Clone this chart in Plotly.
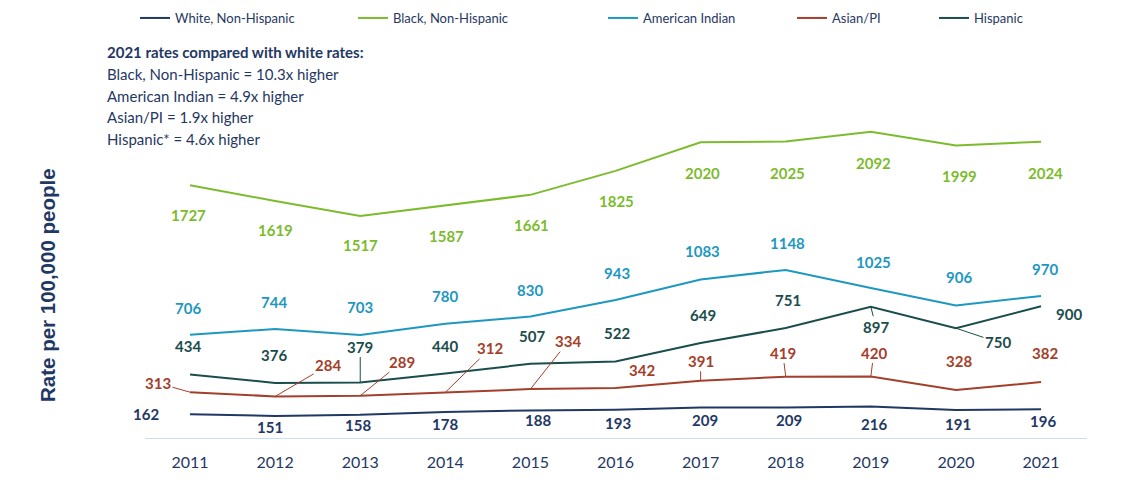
import plotly.graph_objects as go

# Data
years = [2011, 2012, 2013, 2014, 2015, 2016, 2017, 2018, 2019, 2020, 2021]
white = [162, 151, 158, 178, 188, 193, 209, 209, 216, 191, 196]
black = [1727, 1619, 1517, 1587, 1661, 1825, 2020, 2025, 2092, 1999, 2024]
american_indian = [706, 744, 703, 780, 830, 943, 1083, 1148, 1025, 906, 970]
asian_pi = [313, 284, 289, 312, 334, 342, 391, 419, 420, 328, 382]
hispanic = [434, 376, 379, 440, 507, 522, 649, 751, 897, 750, 900]

note_title = "2021 rates compared with white rates:"
note_lines = [
    "Black, Non-Hispanic = 10.3x higher",
    "American Indian = 4.9x higher",
    "Asian/PI = 1.9x higher",
    "Hispanic* = 4.6x higher",
]

# label offsets in pixels (dx, dy, draw callout line)
white_off = [(-44, 0, 0), (-5, 11, 0), (-2, 10, 0), (0, 12, 0), (8, 10, 0), (2, 13, 0),
             (4, 13, 0), (3, 13, 0), (3, 18, 0), (2, 14, 0), (2, 12, 0)]
black_off = [(-2, 30, 0), (0, 29, 0), (0, 29, 0), (1, 30, 0), (1, 30, 0), (1, 30, 0),
             (2, 31, 0), (2, 31, 0), (3, 31, 0), (4, 31, 0), (4, 31, 0)]
ai_off = [(-2, -27, 0), (-1, -27, 0), (0, -28, 0), (0, -28, 0), (0, -27, 0), (1, -27, 0),
          (2, -28, 0), (2, -27, 0), (3, -26, 0), (3, -28, 0), (4, -27, 0)]
hisp_off = [(-2, -28, 0), (-1, -28, 0), (0, -36, 1), (0, -28, 0), (2, -28, 0), (1, -29, 0),
            (2, -28, 0), (2, -28, 0), (5, 20, 1), (42, 14, 1), (28, 8, 0)]
asian_off = [(-32, -9, 1), (53, -31, 1), (42, -34, 1), (45, -44, 1), (38, -48, 1), (26, -18, 0),
             (0, -20, 1), (-3, -24, 1), (3, -24, 1), (3, -29, 0), (4, -29, 0)]

series = [
    ("White, Non-Hispanic", white, "#1f3864", white_off),
    ("Black, Non-Hispanic", black, "#7dbb2e", black_off),
    ("American Indian", american_indian, "#1e98bf", ai_off),
    ("Asian/PI", asian_pi, "#a3402b", asian_off),
    ("Hispanic", hispanic, "#1a4d4c", hisp_off),
]

# where each legend label text starts (px)
legend_text_px = [175, 393, 643, 832, 974]

fig = go.Figure()
annotations = []
for i, (name, vals, color, offs) in enumerate(series):
    lg = "legend" if i == 0 else "legend%d" % (i + 1)
    fig.add_trace(go.Scatter(x=years, y=vals, mode="lines", name=name,
                             line=dict(color=color, width=2), legend=lg))
    for yr, v, (dx, dy, arrow) in zip(years, vals, offs):
        annotations.append(dict(
            x=yr, y=v, xref="x", yref="y", text=str(v),
            showarrow=True, ax=dx, ay=dy, arrowhead=0, arrowwidth=1, standoff=0,
            arrowcolor=color if arrow else "rgba(0,0,0,0)",
            font=dict(family="Lato", size=15, color=color, weight="bold"),
        ))

# note block
annotations.append(dict(x=(105 - 145) / 942, y=(438 - 52) / 326, xref="paper", yref="paper",
                        xanchor="left", yanchor="middle", showarrow=False, text="<b>" + note_title + "</b>",
                        font=dict(family="Lato", size=15, color="#1f3864")))
for k, line in enumerate(note_lines):
    annotations.append(dict(x=(105 - 145) / 942, y=(438 - 74 - 21.7 * k) / 326,
                            xref="paper", yref="paper", xanchor="left", yanchor="middle",
                            showarrow=False, text=line,
                            font=dict(family="Lato", size=15, color="#1f3864")))

# y axis title
annotations.append(dict(x=(47 - 145) / 942, y=(438 - 285) / 326, xref="paper", yref="paper",
                        xanchor="center", yanchor="middle",
                        showarrow=False, textangle=-90, text="<b>Rate per 100,000 people</b>",
                        font=dict(family="Liberation Sans", size=20.5, color="#1f3864")))

layout_legends = {}
for i, px in enumerate(legend_text_px):
    key = "legend" if i == 0 else "legend%d" % (i + 1)
    layout_legends[key] = dict(x=(px - 40 - 145) / 942, xref="paper",
                               y=1 - 10 / 504, yref="container", xanchor="left",
                               yanchor="middle", bgcolor="rgba(0,0,0,0)", itemwidth=30,
                               font=dict(family="Lato", size=13, color="#1f3864"))

fig.update_layout(
    width=1135, height=504,
    margin=dict(l=137, r=56, t=104, b=74, autoexpand=False),
    plot_bgcolor="white", paper_bgcolor="white",
    showlegend=True,
    annotations=annotations,
    xaxis=dict(range=[2010.471, 2021.54], tickvals=years, showgrid=False, zeroline=False,
               showline=True, linecolor="#c9e0f2", linewidth=1, ticks="",
               ticklabelstandoff=10,
               tickfont=dict(family="Lato", size=16, color="#1f3864")),
    yaxis=dict(range=[0, 2227], showgrid=False, zeroline=False, showticklabels=False,
               showline=False, ticks=""),
    **layout_legends,
)

fig.write_html("out.html")
